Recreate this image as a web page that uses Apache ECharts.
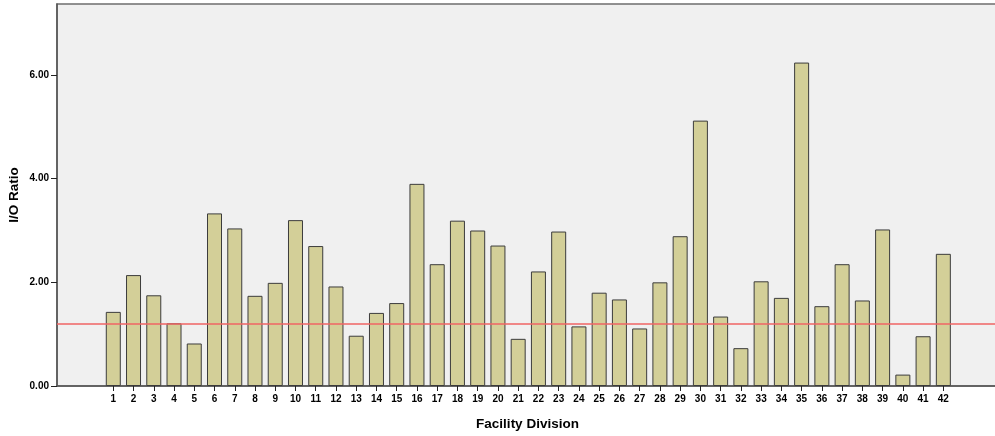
<!DOCTYPE html>
<html>
<head>
<meta charset="utf-8">
<script src="https://cdn.jsdelivr.net/npm/echarts@6/dist/echarts.min.js"></script>
<style>
html,body{margin:0;padding:0;background:#fff;}
#c{width:995px;height:436px;}
</style>
</head>
<body>
<div id="c"></div>
<script>
const divisions = [1,2,3,4,5,6,7,8,9,10,11,12,13,14,15,16,17,18,19,20,21,22,23,24,25,26,27,28,29,30,31,32,33,34,35,36,37,38,39,40,41,42];
const ioRatio = [1.43,2.14,1.75,1.21,0.82,3.33,3.04,1.74,1.99,3.20,2.70,1.92,0.97,1.41,1.60,3.90,2.35,3.19,3.00,2.71,0.91,2.21,2.98,1.15,1.80,1.67,1.11,2.00,2.89,5.12,1.34,0.73,2.02,1.70,6.24,1.54,2.35,1.65,3.02,0.22,0.96,2.55];
const referenceLine = 1.2;
const yTicks = [0,2,4,6];

const chart = echarts.init(document.getElementById('c'), null, {renderer:'canvas'});
const barData = divisions.map((d,i)=>[d, ioRatio[i]]);
chart.setOption({
  animation:false,
  backgroundColor:'#ffffff',
  grid:{left:57, top:4, right:-3, bottom:50, show:true, backgroundColor:'#f0f0f0', borderColor:'#6e6e6e', borderWidth:1.5, containLabel:false, outerBoundsMode:'none'},
  xAxis:{
    type:'value', min:-1.78, max:44.7,
    name:'Facility Division', nameLocation:'middle', nameGap:31, nameMoveOverlap:false,
    nameTextStyle:{fontFamily:'Liberation Sans, Arial, sans-serif', fontWeight:'bold', fontSize:13.5, color:'#000'},
    splitLine:{show:false},
    axisLine:{show:true, onZero:false, lineStyle:{color:'#555', width:1.5}},
    axisTick:{show:true, customValues:divisions, length:5, lineStyle:{color:'#222'}},
    axisLabel:{customValues:divisions, margin:8, fontFamily:'Liberation Sans, Arial, sans-serif', fontWeight:'bold', fontSize:10, color:'#000', formatter:v=>String(v)}
  },
  yAxis:{
    type:'value', min:0, max:7.37,
    name:'I/O Ratio', nameLocation:'middle', nameGap:36, nameMoveOverlap:false,
    nameTextStyle:{fontFamily:'Liberation Sans, Arial, sans-serif', fontWeight:'bold', fontSize:13.5, color:'#000'},
    splitLine:{show:false},
    axisLine:{show:true, onZero:false, lineStyle:{color:'#555', width:1.5}},
    axisTick:{show:true, customValues:yTicks, length:6, lineStyle:{color:'#222'}},
    axisLabel:{customValues:yTicks, margin:8, fontFamily:'Liberation Sans, Arial, sans-serif', fontWeight:'bold', fontSize:10, color:'#000', formatter:v=>v.toFixed(2)}
  },
  series:[{
    type:'bar',
    data:barData,
    barWidth:15,
    itemStyle:{color:'#d3cf98', borderColor:'#3c3c3c', borderWidth:1},
    markLine:{
      silent:true, symbol:'none',
      label:{show:false},
      lineStyle:{color:'#f06464', width:1.5, type:'solid'},
      data:[{yAxis:referenceLine}]
    }
  }]
});
</script>
</body>
</html>
